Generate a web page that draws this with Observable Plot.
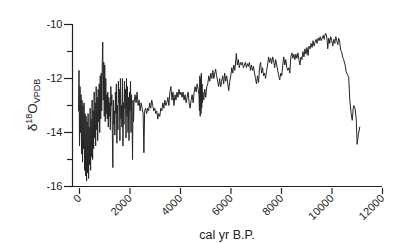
<!DOCTYPE html>
<html>
<head>
<meta charset="utf-8">
<script src="https://cdn.jsdelivr.net/npm/d3@7"></script>
<script src="https://cdn.jsdelivr.net/npm/@observablehq/plot@0.6"></script>
<style>
  html, body { margin: 0; padding: 0; background: #fff; }
</style>
</head>
<body>
<div id="chart"></div>
<script>
// Age (cal yr B.P.) and δ18O (‰ VPDB)
const ages = [
  0,20,40,60,80,100,120,140,160,180,200,220,240,260,280,300,320,340,360,380,
  400,420,440,460,480,500,520,540,560,580,600,620,640,660,680,700,720,740,760,780,
  800,820,840,860,880,900,920,940,960,980,1000,1020,1040,1060,1080,1100,1120,1140,1160,1180,
  1200,1220,1240,1260,1280,1300,1320,1340,1360,1380,1400,1420,1440,1460,1480,1500,1520,1540,1560,1580,
  1600,1620,1640,1660,1680,1700,1720,1740,1760,1780,1800,1820,1840,1860,1880,1900,1920,1940,1960,1980,
  2000,2020,2040,2060,2080,2100,2120,2140,2160,2180,2200,
  2240,2280,2320,2360,2400,2440,2480,2520,2560,2590,2620,2660,2700,2740,2780,2820,2860,2900,2940,2980,
  3020,3060,3100,3140,3180,3220,3260,3300,3340,3380,3420,3460,3500,3540,3580,3620,3660,3700,3740,3780,
  3820,3860,3900,3940,3980,4020,4060,4100,4140,4180,4220,4260,4300,4340,4380,4420,4460,4500,4540,4580,
  4620,4660,4700,4740,4770,4790,4805,4820,4835,4850,4865,4880,4895,4910,4925,4960,5000,5040,5080,5120,
  5160,5200,5240,5280,5320,5360,5400,5430,5470,5510,5550,5590,5630,5670,5710,5750,5790,5830,5870,5910,
  5950,5990,6030,6070,6110,6150,6190,6230,6250,6290,6330,6370,6410,6450,6490,6530,6570,6610,6650,6690,
  6730,6770,6810,6850,6890,6930,6970,7010,7050,7090,7130,7170,7210,7250,7290,7330,7370,7410,7450,7490,
  7530,7570,7610,7650,7690,7730,7770,7810,7850,7890,7930,7970,8010,8050,8090,8130,8170,8210,8250,8290,
  8330,8370,8410,8450,8490,8530,8570,8610,8650,8690,8730,8770,8810,8850,8890,8930,8970,9010,9050,9090,
  9130,9170,9210,9250,9290,9330,9370,9410,9450,9490,9530,9570,9610,9650,9690,9730,9770,9800,9840,9870,
  9910,9950,9990,10030,10070,10110,10150,10190,10230,10270,10300,10340,10380,10420,10460,10500,10560,10600,10650,10700,
  10745,10800,10840,10880,10905,10950,11000,11035,11080,11140
];
const d18O = [
  -13.2,-11.7,-14.5,-12.3,-14.0,-12.6,-14.8,-12.8,-15.1,-13.0,-14.6,-12.9,-15.4,-13.3,-15.6,-13.4,-15.8,-13.6,-15.5,-13.3,
  -15.7,-13.8,-15.2,-13.1,-15.4,-13.5,-14.9,-12.8,-15.0,-13.2,-14.6,-12.5,-14.2,-12.9,-14.5,-12.3,-13.9,-12.7,-14.3,-12.4,
  -13.6,-12.2,-14.0,-11.9,-13.5,-11.8,-13.2,-11.5,-10.65,-12.8,-11.4,-13.4,-11.5,-13.6,-12.0,-13.3,-12.6,-13.5,-12.5,-13.8,
  -12.7,-13.4,-12.9,-13.9,-12.3,-13.0,-12.6,-14.0,-15.3,-12.8,-13.7,-13.2,-14.1,-12.5,-13.3,-12.2,-14.4,-13.0,-13.9,-12.1,
  -12.9,-12.4,-14.3,-12.0,-13.5,-13.0,-13.8,-12.0,-14.5,-12.9,-13.7,-12.1,-13.1,-12.4,-14.2,-12.0,-13.4,-12.3,-14.0,-12.7,
  -14.3,-12.5,-13.2,-12.1,-14.0,-12.6,-13.5,-15.0,-12.8,-13.6,-12.9,
  -12.6,-12.9,-12.5,-13.0,-12.8,-13.2,-12.9,-13.1,-13.3,-14.75,-13.2,-13.1,-13.3,-13.1,-13.2,-12.9,-13.1,-12.8,-13.0,-13.2,
  -13.1,-13.3,-13.2,-13.5,-13.3,-13.4,-13.1,-13.2,-12.9,-13.1,-12.8,-13.0,-12.9,-12.7,-13.0,-12.5,-12.3,-12.8,-12.5,-13.0,
  -12.6,-12.8,-12.5,-12.7,-12.4,-12.6,-12.5,-12.7,-12.5,-12.8,-12.6,-12.9,-12.7,-12.5,-12.9,-13.1,-12.8,-12.6,-12.9,-12.5,
  -12.3,-12.5,-12.2,-12.4,-12.6,-13.2,-11.9,-13.4,-12.0,-13.3,-11.8,-13.1,-12.2,-12.9,-12.5,-12.8,-12.4,-12.7,-12.3,-12.2,
  -11.9,-12.1,-11.8,-12.0,-11.7,-12.0,-11.8,-11.65,-11.9,-12.1,-12.3,-12.0,-12.3,-12.1,-11.9,-12.2,-11.8,-12.1,-11.9,-12.2,
  -12.45,-12.1,-11.9,-11.6,-11.8,-11.5,-11.7,-11.3,-11.07,-11.5,-11.3,-11.6,-11.4,-11.5,-11.4,-11.6,-11.5,-11.4,-11.6,-11.45,
  -11.55,-11.4,-11.7,-11.5,-11.7,-11.55,-11.8,-12.0,-12.2,-11.9,-12.15,-11.6,-11.4,-11.8,-11.6,-11.9,-11.8,-12.0,-11.7,-11.5,
  -11.2,-11.4,-11.25,-11.45,-11.2,-11.35,-11.6,-11.3,-11.5,-11.7,-11.9,-12.05,-11.8,-11.9,-11.5,-11.2,-11.5,-11.3,-11.6,-11.7,
  -11.6,-11.8,-11.2,-11.05,-11.25,-11.1,-11.3,-11.1,-11.25,-11.05,-11.3,-11.5,-11.2,-11.3,-11.0,-11.2,-10.9,-11.1,-10.85,-11.15,
  -10.8,-10.9,-10.7,-10.85,-10.6,-10.8,-10.65,-10.55,-10.7,-10.5,-10.6,-10.45,-10.6,-10.5,-10.4,-10.55,-10.35,-10.33,-10.5,-10.9,
  -10.5,-10.7,-10.45,-10.6,-10.8,-10.55,-10.7,-10.45,-10.6,-10.75,-10.5,-10.6,-10.95,-11.0,-11.2,-11.3,-11.5,-11.75,-11.85,-11.95,
  -12.8,-13.3,-13.55,-13.1,-13.0,-13.1,-13.5,-14.44,-14.1,-13.8
];
const xTicks = [0, 2000, 4000, 6000, 8000, 10000, 12000];
const yTicks = [-10, -12, -14, -16];
const yMinorTicks = [-11, -13, -15];

const data = ages.map((a, i) => ({age: a, d18O: d18O[i]}));

const chart = Plot.plot({
  width: 400,
  height: 243,
  marginTop: 24,
  marginBottom: 57,
  marginLeft: 72,
  marginRight: 19,
  insetLeft: 6,
  x: {domain: [0, 12000]},
  y: {domain: [-16, -10]},
  style: {fontFamily: "'Liberation Sans', Arial, sans-serif", fontSize: "11px", color: "#222", background: "#fff"},
  marks: [
    Plot.frame({anchor: "left", stroke: "#222", strokeWidth: 1.2}),
    Plot.frame({anchor: "bottom", stroke: "#222", strokeWidth: 1.2}),
    Plot.axisY({ticks: yTicks, tickSize: 8, tickPadding: 2, tickFormat: d => String(d), label: null, strokeWidth: 1.2, fontSize: 11}),
    Plot.axisY({ticks: yMinorTicks, tickSize: 5, tickFormat: () => "", label: null, strokeWidth: 1.2}),
    Plot.axisX({ticks: xTicks, tickSize: 6, tickRotate: -45, tickPadding: 2, dx: 1, dy: 2, tickFormat: d => String(d),
      label: null, strokeWidth: 1.2, fontSize: 11}),
    Plot.line(data, {x: "age", y: "d18O", stroke: "#262626", strokeWidth: 1})
  ]
});

const svg = d3.select(chart);
// x-axis title
svg.append("text")
  .attr("x", 227).attr("y", 239)
  .attr("text-anchor", "middle")
  .attr("font-family", "'Liberation Sans', Arial, sans-serif")
  .attr("font-size", 12.5)
  .attr("fill", "#222")
  .text("cal yr B.P.");
// y-axis label with superscript and subscript
const lab = svg.append("text")
  .attr("transform", "translate(37,105) rotate(-90)")
  .attr("text-anchor", "middle")
  .attr("font-family", "'Liberation Sans', Arial, sans-serif")
  .attr("font-size", 13.5)
  .attr("fill", "#222");
lab.append("tspan").text("δ");
lab.append("tspan").attr("font-size", 9).attr("dy", -5.5).text("18");
lab.append("tspan").attr("dy", 5.5).text("O");
lab.append("tspan").attr("font-size", 9).attr("dy", 3).text("VPDB");

document.getElementById("chart").appendChild(chart);
</script>
</body>
</html>
